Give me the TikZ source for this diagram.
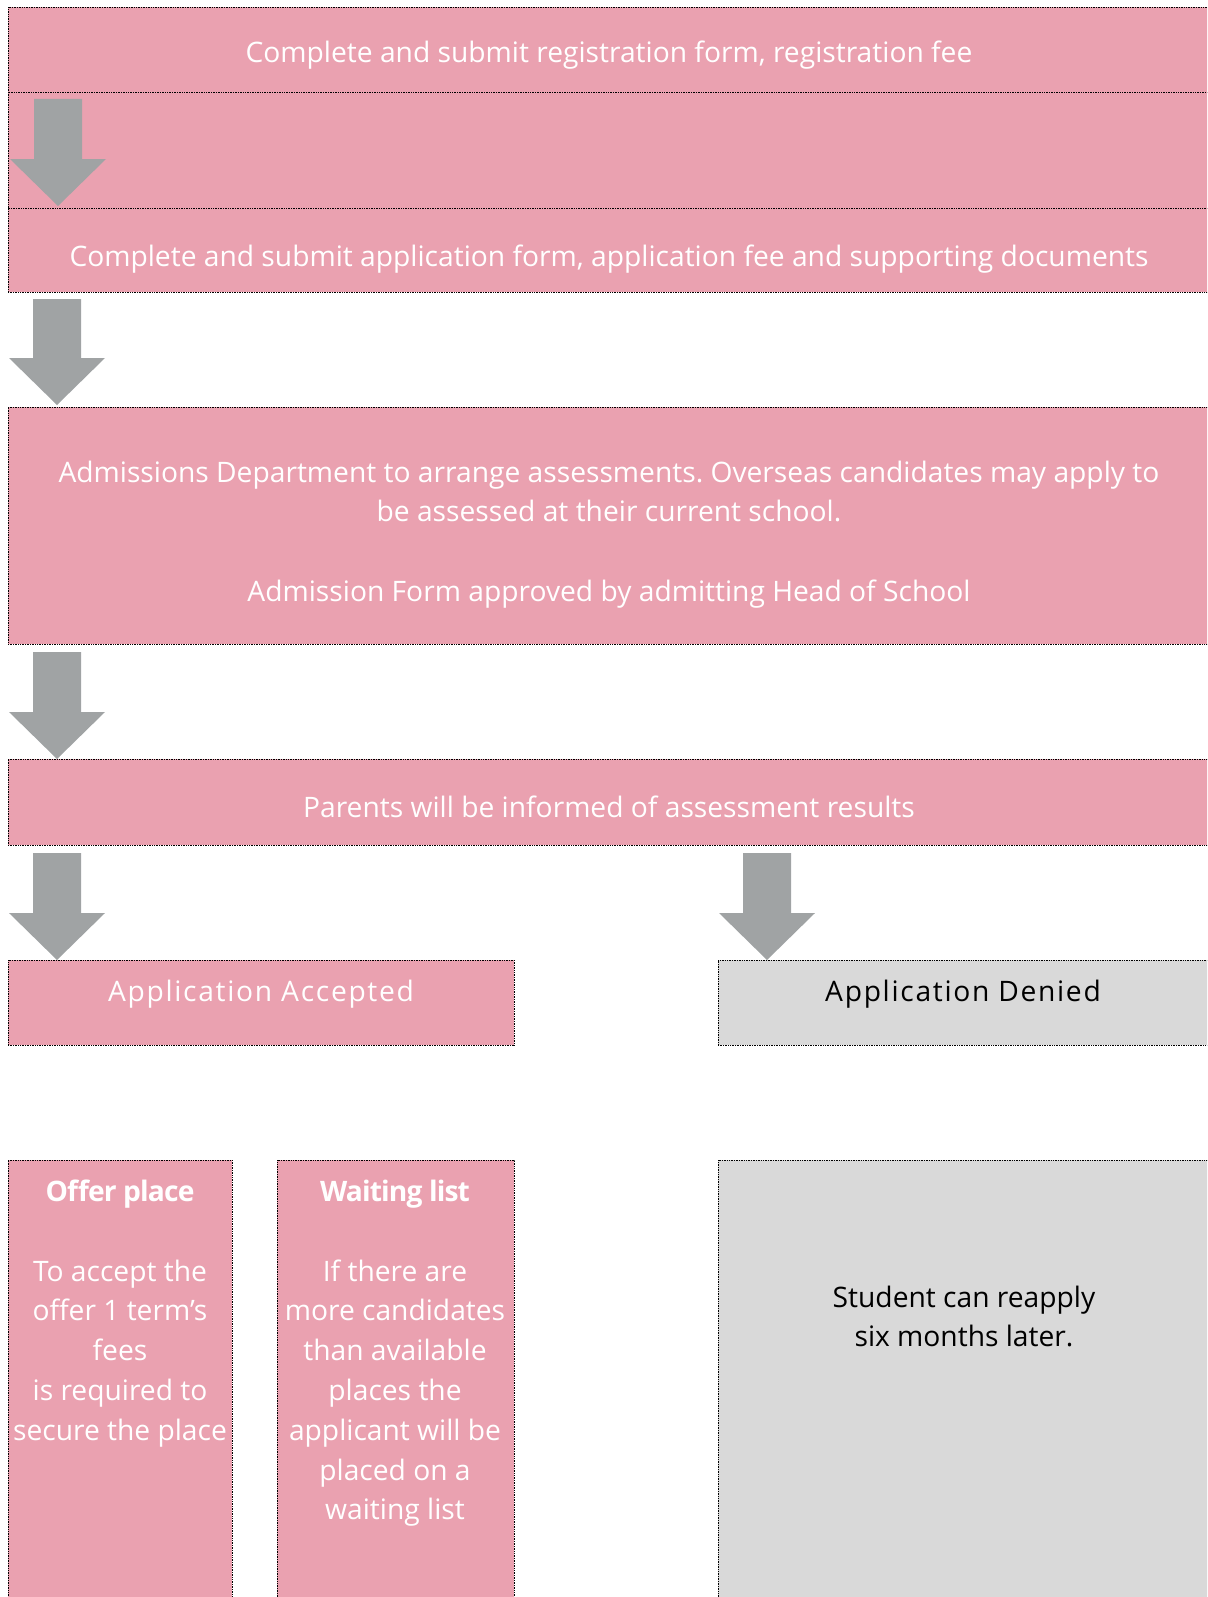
\documentclass[tikz,border=0pt]{standalone}
\usepackage{fontspec}
\setmainfont{Open Sans}
\definecolor{pinkc}{RGB}{234,161,176}
\definecolor{arrowc}{RGB}{160,163,164}
\definecolor{greyc}{RGB}{217,217,217}
\newcommand\fs{\fontsize{28.2bp}{39.8bp}\selectfont}
\newcommand\lns[2]{\parbox[t]{#1bp}{\centering #2}}
\newcommand\barrow[3]{%
  \fill[arrowc] (#1-24,#2) -- (#1+24,#2) -- (#1+24,#3-47) -- (#1+48,#3-47)
    -- (#1,#3) -- (#1-48,#3-47) -- (#1-24,#3-47) -- cycle;}
\frenchspacing
\begin{document}
\begin{tikzpicture}[x=1bp,y=-1bp,
  box/.style={draw=black, densely dotted, line width=0.7bp, inner sep=0pt, outer sep=0pt, anchor=north west},
  pinkbox/.style={box, fill=pinkc},
  greybox/.style={box, fill=greyc},
  wtxt/.style={text=white, font=\fs, inner sep=0pt, anchor=base},
  btxt/.style={text=black, font=\fs, inner sep=0pt, anchor=base}]
\useasboundingbox (0,0) rectangle (1207,1597);
\clip (0,0) rectangle (1207,1597);
% boxes
\node[pinkbox, minimum width=1210bp, minimum height=85bp] (b1) at (8,7) {};
\node[pinkbox, minimum width=1210bp, minimum height=116bp] (band) at (8,92) {};
\node[pinkbox, minimum width=1210bp, minimum height=84bp] (b2) at (8,208) {};
\node[pinkbox, minimum width=1210bp, minimum height=237bp] (b3) at (8,407) {};
\node[pinkbox, minimum width=1210bp, minimum height=86bp] (b4) at (8,759) {};
\node[pinkbox, minimum width=506bp, minimum height=85bp] (acc) at (8,960) {};
\node[greybox, minimum width=500bp, minimum height=85bp] (den) at (718,960) {};
\node[pinkbox, minimum width=224bp, minimum height=450bp] (offer) at (8,1160) {};
\node[pinkbox, minimum width=237bp, minimum height=450bp] (wait) at (277,1160) {};
\node[greybox, minimum width=500bp, minimum height=450bp] (stud) at (718,1160) {};
% arrows
\barrow{58}{99}{206}
\barrow{57}{299}{405}
\barrow{57}{652}{759}
\barrow{57}{853}{960}
\barrow{767}{853}{960}
% texts
\node[wtxt] (t1) at (609,63) {Complete and submit registration form, registration fee};
\node[wtxt] (t2) at (609,266) {Complete and submit application form, application fee and supporting documents};
\node[wtxt] (t3) at (609,482) {\lns{1190}{Admissions Department to arrange assessments. Overseas candidates may apply to\\be assessed at their current school.\\[39.8bp]Admission Form approved by admitting Head of School}};
\node[wtxt] (t4) at (609,817) {Parents will be informed of assessment results};
\node[wtxt] (tacc) at (261,1001) {\addfontfeatures{LetterSpace=6}Application Accepted};
\node[btxt] (tden) at (963,1001) {\addfontfeatures{LetterSpace=6}Application Denied};
\node[wtxt] (toffh) at (120,1201) {\bfseries\addfontfeatures{LetterSpace=-3}Offer place};
\node[wtxt] (toff) at (120,1281) {\lns{300}{To accept the\\offer 1 term’s\\fees\\is required to\\secure the place}};
\node[wtxt] (twaith) at (395,1201) {\bfseries\addfontfeatures{LetterSpace=-3}Waiting list};
\node[wtxt] (twait) at (395,1281) {\lns{300}{If there are\\more candidates\\than available\\places the\\applicant will be\\placed on a\\waiting list}};
\node[btxt] (tstud) at (964,1307) {\lns{480}{Student can reapply\\six months later.}};
\end{tikzpicture}
\end{document}
